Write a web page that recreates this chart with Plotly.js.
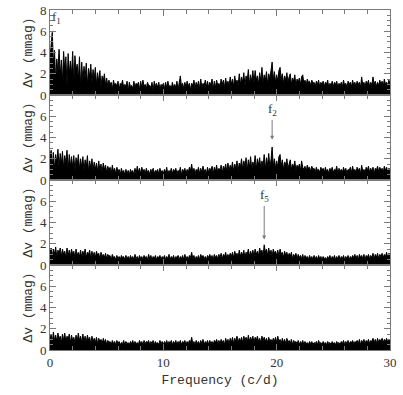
<!DOCTYPE html>
<html>
<head>
<meta charset="utf-8">
<script src="https://cdn.plot.ly/plotly-3.0.1.min.js"></script>
<style>
  html, body { margin: 0; padding: 0; background: #fff; }
  #grafico { width: 403px; height: 395px; }
</style>
</head>
<body>
<div id="grafico"></div>
<script>
// frequency grid, c/d (0 to 30, step 0.1)
const pasoFrec = 0.1;
const nPuntos = 301;

// amplitude spectra (mmag)
const panel1 = [
  3.5,4.8,5.9,3.0,4.2,1.3,3.4,2.2,4.3,1.8,
  3.3,1.2,4.1,2.4,3.6,0.9,3.9,2.0,3.2,1.9,
  4.1,1.1,3.7,2.3,2.9,1.4,3.6,0.8,3.1,1.3,
  2.7,1.6,3.0,0.9,2.5,1.7,2.9,1.1,2.4,1.5,
  2.6,1.0,2.1,1.2,2.3,0.8,1.8,1.3,2.0,0.9,
  1.6,0.8,1.4,1.0,1.2,0.5,1.4,0.9,1.1,0.8,
  1.3,0.5,1.1,0.9,1.4,0.7,1.0,0.8,1.3,0.4,
  1.2,0.8,0.9,0.6,1.3,0.7,1.1,0.9,1.2,0.5,
  1.3,0.7,1.4,0.8,1.0,0.6,1.2,0.9,0.9,0.7,
  1.2,0.4,1.3,0.8,1.1,0.7,1.2,0.5,1.0,0.8,
  1.1,0.6,1.2,0.7,1.3,0.8,0.9,0.6,1.2,0.7,
  1.0,0.7,1.3,0.5,1.2,1.8,0.8,1.1,0.6,1.2,
  0.7,1.3,0.8,1.1,0.5,1.1,0.9,1.4,0.7,1.2,
  0.8,1.3,0.6,1.5,0.7,1.1,0.9,1.4,0.8,1.3,
  0.7,1.2,0.9,1.5,0.6,1.3,0.7,1.4,0.9,1.1,
  0.8,1.5,1.0,1.4,0.7,1.6,0.9,1.3,0.8,1.7,
  1.0,1.5,0.8,1.8,1.1,1.4,0.9,2.0,1.0,1.7,
  1.2,2.1,0.9,1.8,1.3,2.4,1.0,1.9,1.2,2.3,
  1.1,2.3,1.4,1.8,1.0,2.1,1.3,2.6,1.1,1.9,
  1.4,2.2,1.0,2.0,1.5,2.6,3.1,1.4,2.2,1.2,
  1.9,1.3,2.3,2.6,1.5,2.0,1.1,1.8,1.4,2.1,
  1.2,1.7,2.0,1.0,1.6,1.3,1.9,0.9,1.5,1.2,
  1.6,1.0,1.7,1.9,1.1,1.4,0.9,1.5,1.2,1.3,
  0.9,1.4,1.1,1.2,0.8,1.3,1.0,1.4,0.8,1.2,
  1.0,1.3,0.8,1.2,1.0,1.4,0.7,1.1,0.9,1.3,
  0.8,1.2,1.0,1.3,0.7,1.1,0.9,1.2,0.8,1.4,
  0.9,1.1,0.7,1.3,1.0,1.2,0.8,1.4,0.9,1.2,
  0.8,1.3,1.0,1.2,0.7,1.7,0.9,1.2,0.8,1.3,
  1.0,1.4,0.8,1.2,0.9,1.7,1.0,1.3,0.8,1.2,
  0.9,1.4,1.0,1.3,0.8,1.5,1.0,1.2,0.9,1.4,
  1.1
];

const panel2 = [
  2.2,2.8,1.4,2.6,1.0,2.4,1.6,2.9,1.2,2.5,
  1.5,2.7,1.1,2.3,1.6,2.8,1.0,2.4,1.3,2.2,
  1.2,2.3,0.9,2.1,1.4,2.4,1.0,2.0,1.2,2.2,
  0.9,1.9,1.2,2.3,0.8,1.8,1.1,2.0,0.9,1.7,
  1.0,1.6,0.8,1.8,0.9,1.5,0.7,1.6,1.0,1.4,
  0.7,1.3,0.9,1.2,0.6,1.4,0.8,1.1,0.6,1.2,
  0.8,1.0,0.5,1.1,0.7,0.9,0.5,1.0,0.6,0.9,
  0.5,1.0,0.7,0.9,0.5,1.1,0.6,1.3,0.7,1.1,
  0.6,1.2,0.8,1.0,0.6,1.1,0.7,0.9,0.5,1.0,
  0.7,1.1,0.6,0.9,0.8,1.0,0.5,1.1,0.7,0.9,
  0.6,1.0,0.7,1.2,0.5,0.9,0.7,1.1,0.6,1.0,
  0.8,1.1,0.6,0.9,0.7,1.2,0.5,1.0,0.8,1.1,
  0.6,1.0,0.7,1.2,0.9,1.5,0.7,1.1,0.6,1.0,
  0.8,1.2,0.6,1.1,0.7,1.3,0.8,1.0,0.6,1.2,
  0.7,1.1,0.9,1.3,0.6,1.2,0.8,1.4,0.7,1.1,
  0.9,1.4,0.7,1.3,1.0,1.5,0.8,1.6,0.9,1.4,
  1.0,1.7,0.8,1.5,1.1,1.8,0.9,1.6,1.2,2.0,
  1.0,1.8,1.3,2.1,0.9,1.9,1.2,2.2,1.0,1.7,
  1.3,2.3,1.0,2.0,1.4,2.1,1.1,1.8,1.3,2.4,
  1.0,2.1,1.4,2.5,1.2,1.9,3.1,1.3,2.0,1.1,
  1.8,1.2,2.2,2.4,1.3,1.9,1.0,1.7,1.4,2.0,
  1.1,1.6,1.9,1.0,1.5,1.2,1.8,0.9,1.4,1.1,
  1.5,0.9,1.8,1.2,1.0,1.3,0.8,1.4,1.1,1.2,
  0.8,1.3,1.0,1.1,0.7,1.2,0.9,1.0,0.7,1.2,
  0.9,1.1,0.7,1.2,0.8,1.0,0.6,1.1,0.8,1.2,
  0.7,1.0,0.9,1.3,0.6,1.1,0.8,1.0,0.7,1.2,
  0.8,1.1,0.6,1.0,0.9,1.2,0.7,1.3,0.8,1.0,
  0.7,1.2,0.9,1.1,0.6,1.4,0.8,1.0,0.7,1.2,
  0.9,1.3,0.7,1.1,0.8,1.2,0.6,1.1,0.9,1.3,
  0.8,1.2,0.9,1.1,0.7,1.3,0.9,1.2,0.8,1.1,
  1.0
];

const panel3 = [
  1.2,1.6,0.8,1.5,1.0,1.7,0.7,1.4,1.1,1.6,
  0.8,1.5,1.0,1.3,0.7,1.6,0.9,1.4,0.8,1.5,
  1.0,1.3,0.7,1.5,0.9,1.2,0.8,1.4,0.7,1.3,
  0.9,1.5,0.7,1.2,1.0,1.4,0.6,1.3,0.8,1.2,
  0.7,1.3,0.9,1.1,0.6,1.2,0.8,1.0,0.7,1.1,
  0.6,1.0,0.8,0.9,0.5,1.0,0.7,0.8,0.5,0.9,
  0.6,0.8,0.5,0.9,0.7,0.8,0.5,0.9,0.6,0.8,
  0.5,0.9,0.6,0.8,0.5,1.0,0.6,0.8,0.5,0.9,
  0.6,0.8,0.5,0.9,0.7,0.8,0.5,1.0,0.6,0.9,
  0.5,0.8,0.6,0.9,0.5,0.8,0.7,0.9,0.5,0.8,
  0.6,0.9,0.5,0.8,0.6,1.0,0.5,0.8,0.6,0.9,
  0.5,0.8,0.7,0.9,0.5,0.8,0.6,0.9,0.5,1.0,
  0.6,0.8,0.5,0.9,0.7,1.2,0.6,0.9,0.5,0.8,
  0.6,0.9,0.5,1.0,0.7,0.9,0.6,0.8,0.5,0.9,
  0.7,1.0,0.6,0.9,0.5,1.0,0.7,0.9,0.6,1.0,
  0.7,1.1,0.6,1.0,0.8,1.2,0.6,1.0,0.7,1.1,
  0.8,1.2,0.7,1.3,0.9,1.1,0.7,1.4,0.8,1.2,
  0.9,1.4,0.7,1.2,1.0,1.5,0.8,1.3,0.9,1.4,
  0.8,1.5,1.0,1.3,0.9,1.6,1.1,1.4,0.8,1.9,
  1.2,1.5,0.9,1.6,1.0,1.4,0.8,1.5,1.1,1.3,
  0.9,1.4,0.8,1.5,1.0,1.2,0.7,1.3,0.9,1.2,
  0.7,1.1,0.8,1.2,0.6,1.0,0.8,1.1,0.6,1.0,
  0.7,0.9,0.6,1.0,0.5,0.9,0.7,0.8,0.5,0.9,
  0.6,0.8,0.5,0.9,0.6,0.8,0.5,0.9,0.6,0.8,
  0.5,0.8,0.6,0.7,0.5,0.8,0.6,0.9,0.5,0.8,
  0.6,0.9,0.5,0.8,0.6,0.9,0.5,0.8,0.6,0.9,
  0.5,0.8,0.6,0.9,0.5,0.8,0.6,0.9,0.7,1.0,
  0.6,0.9,0.5,1.0,0.7,0.9,0.6,1.0,0.5,0.9,
  0.7,1.0,0.6,0.9,0.7,1.1,0.6,1.0,0.7,1.1,
  0.6,1.0,0.8,1.1,0.7,1.0,0.8,1.2,0.7,1.1,
  1.0
];

const panel4 = [
  1.0,1.5,0.7,1.7,0.9,1.4,0.8,1.6,1.0,1.3,
  0.7,1.5,0.9,1.6,0.8,1.3,1.0,1.5,0.7,1.4,
  0.9,1.2,0.7,1.4,0.8,1.6,0.9,1.3,0.7,1.5,
  0.8,1.3,0.7,1.4,0.9,1.2,0.6,1.3,0.8,1.1,
  0.7,1.2,0.6,1.1,0.8,1.0,0.6,1.1,0.7,1.0,
  0.5,0.9,0.7,0.8,0.5,0.9,0.6,0.8,0.5,0.9,
  0.6,0.8,0.5,0.7,0.6,0.9,0.5,0.8,0.6,0.7,
  0.5,0.8,0.6,0.9,0.5,0.8,0.6,0.7,0.5,0.9,
  0.6,0.8,0.5,0.9,0.6,0.8,0.7,0.9,0.5,0.8,
  0.6,0.9,0.5,0.8,0.6,0.7,0.5,0.9,0.6,0.8,
  0.5,0.8,0.6,0.9,0.5,0.8,0.6,0.9,0.5,0.8,
  0.6,0.9,0.5,0.8,0.6,0.9,0.5,0.8,0.7,0.9,
  0.5,0.8,0.6,0.9,0.7,1.2,0.6,0.8,0.5,0.9,
  0.6,0.8,0.5,0.9,0.6,1.0,0.5,0.8,0.6,0.9,
  0.5,0.9,0.6,0.8,0.5,0.9,0.7,1.0,0.6,0.9,
  0.6,1.0,0.7,0.9,0.5,1.1,0.7,1.0,0.6,1.1,
  0.7,1.2,0.6,1.1,0.8,1.3,0.7,1.1,0.8,1.2,
  0.7,1.3,0.9,1.2,0.7,1.4,0.8,1.2,0.9,1.3,
  0.7,1.2,0.9,1.3,0.8,1.1,0.7,1.3,0.9,1.2,
  0.8,1.1,0.7,1.2,0.8,1.0,0.7,1.1,0.8,1.2,
  0.7,1.3,0.8,1.0,0.6,1.1,0.7,1.0,0.6,1.1,
  0.7,0.9,0.6,1.0,0.5,0.9,0.7,0.8,0.6,0.9,
  0.5,0.8,0.6,0.9,0.5,0.8,0.6,0.7,0.5,0.8,
  0.6,0.8,0.5,0.7,0.6,0.8,0.5,0.9,0.6,0.7,
  0.5,0.8,0.6,0.7,0.5,0.8,0.6,0.7,0.5,0.8,
  0.6,0.7,0.5,0.8,0.6,0.7,0.5,0.8,0.6,0.9,
  0.5,0.8,0.6,0.9,0.5,0.8,0.7,0.9,0.6,0.8,
  0.7,0.9,0.6,1.0,0.5,0.9,0.7,1.0,0.6,0.9,
  0.7,1.0,0.6,0.9,0.8,1.1,0.7,1.0,0.6,1.1,
  0.7,1.0,0.8,1.1,0.7,1.0,0.8,1.1,0.7,1.0,
  0.9
];

// marked frequencies: [label, panel, freq, label y, arrow tip (null = no arrow)]
const marcas = [
  ['f<sub>1</sub>', 1, 0.6, 7.3, null],
  ['f<sub>2</sub>', 2, 19.6, 6.6, 3.8],
  ['f<sub>5</sub>', 3, 18.9, 6.5, 2.4]
];

const frecuencias = Array.from({ length: nPuntos }, (_, i) => +(i * pasoFrec).toFixed(1));
const paneles = [panel1, panel2, panel3, panel4];

const gris = '#7a7a7a';
const fuenteTicks = { family: 'Liberation Serif, serif', size: 13, color: '#333' };
const fuenteTitulo = { family: 'Liberation Mono, monospace', size: 13, color: '#333' };

const trazas = paneles.map((valores, k) => ({
  x: frecuencias,
  y: valores,
  xaxis: k === 0 ? 'x' : 'x' + (k + 1),
  yaxis: k === 0 ? 'y' : 'y' + (k + 1),
  mode: 'lines',
  fill: 'tozeroy',
  fillcolor: '#000',
  line: { color: '#000', width: 1 },
  hoverinfo: 'skip',
  showlegend: false
}));

const layout = {
  width: 403,
  height: 395,
  margin: { l: 50, r: 13, t: 10, b: 45 },
  paper_bgcolor: '#fff',
  plot_bgcolor: '#fff',
  showlegend: false,
  annotations: []
};

for (let k = 0; k < 4; k++) {
  const sx = k === 0 ? '' : String(k + 1);
  const abajo = k === 3;
  const ejeX = {
    domain: [0, 1],
    anchor: 'y' + sx,
    range: [0, 30],
    showline: true,
    linecolor: gris,
    linewidth: 1,
    mirror: 'allticks',
    ticks: 'inside',
    ticklen: 6,
    tickcolor: gris,
    tickvals: [0, 10, 20, 30],
    showticklabels: abajo,
    tickfont: fuenteTicks,
    minor: { dtick: 2, ticks: 'inside', ticklen: 4, tickcolor: gris, showgrid: false },
    showgrid: false,
    zeroline: false
  };
  if (k > 0) ejeX.matches = 'x';
  if (abajo) ejeX.title = { text: 'Frequency (c/d)', font: fuenteTitulo, standoff: 6 };
  layout['xaxis' + sx] = ejeX;

  layout['yaxis' + sx] = {
    domain: [0.75 - 0.25 * k, 1 - 0.25 * k],
    anchor: 'x' + sx,
    range: [0, 8],
    showline: true,
    linecolor: gris,
    linewidth: 1,
    mirror: 'allticks',
    ticks: 'inside',
    ticklen: 6,
    tickcolor: gris,
    tickvals: k === 0 ? [0, 2, 4, 6, 8] : [0, 2, 4, 6],
    tickfont: fuenteTicks,
    minor: { dtick: 0.5, ticks: 'inside', ticklen: 3, tickcolor: gris, showgrid: false },
    showgrid: false,
    zeroline: false,
    title: { text: 'Δv (mmag)', font: fuenteTitulo, standoff: 4 }
  };
}

marcas.forEach(([texto, panel, frec, yTexto, punta]) => {
  const sx = panel === 1 ? '' : String(panel);
  const nota = {
    xref: 'x' + sx, yref: 'y' + sx,
    text: texto,
    font: { family: 'Liberation Serif, serif', size: 13, color: '#333' }
  };
  if (punta === null) {
    Object.assign(nota, { x: frec, y: yTexto, showarrow: false });
  } else {
    // label sits at the arrow tail, arrow points down to the peak
    Object.assign(nota, {
      axref: 'x' + sx, ayref: 'y' + sx,
      x: frec, y: punta,
      ax: frec, ay: yTexto,
      showarrow: true,
      arrowhead: 2,
      arrowsize: 0.8,
      arrowwidth: 1,
      arrowcolor: gris
    });
  }
  layout.annotations.push(nota);
});

Plotly.newPlot('grafico', trazas, layout, { staticPlot: true });
</script>
</body>
</html>
